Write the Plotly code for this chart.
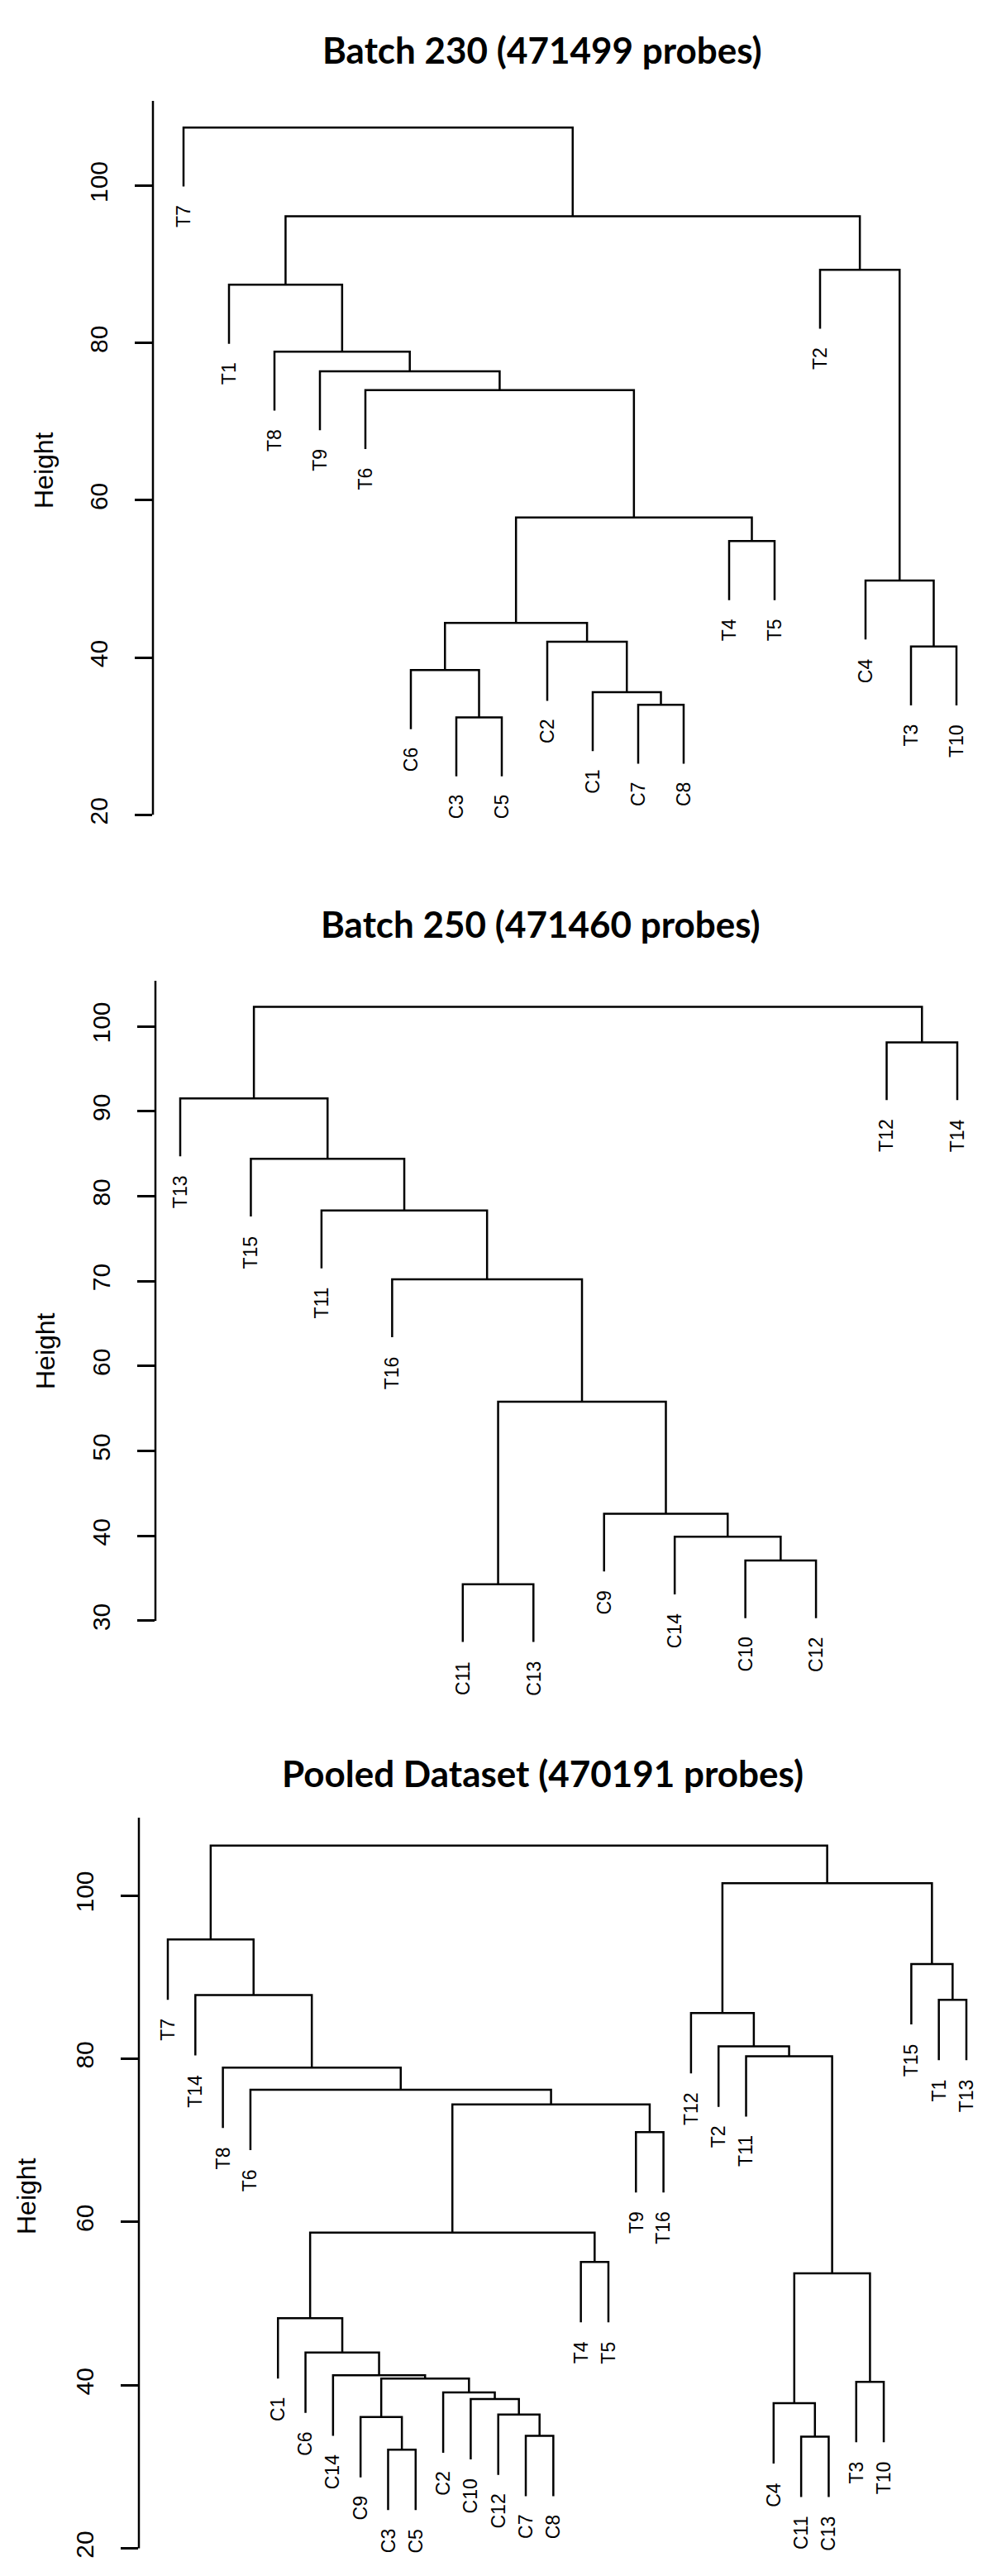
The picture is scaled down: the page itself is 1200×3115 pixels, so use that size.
import plotly.graph_objects as go

W, H = 1200, 3115

# ---------------- data ----------------
TITLES = ["Batch 230 (471499 probes)",
          "Batch 250 (471460 probes)",
          "Pooled Dataset (470191 probes)"]

# leaf order (left to right) and merges: (left, right, height); ints refer to earlier merges
ORDER_230 = ["T7", "T1", "T8", "T9", "T6", "C6", "C3", "C5", "C2", "C1", "C7", "C8",
             "T4", "T5", "T2", "C4", "T3", "T10"]
MERGES_230 = [("C3", "C5", 32.4), ("C7", "C8", 34.0), ("C1", 1, 35.6), ("C6", 0, 38.4),
              ("T3", "T10", 41.4), ("C2", 2, 42.0), (3, 5, 44.4), ("C4", 4, 49.8),
              ("T4", "T5", 54.8), (6, 8, 57.8), ("T6", 9, 74.0), ("T9", 10, 76.4),
              ("T8", 11, 78.9), ("T1", 12, 87.4), ("T2", 7, 89.3), (13, 14, 96.1),
              ("T7", 15, 107.4)]
TICKS_230 = [20, 40, 60, 80, 100]

ORDER_250 = ["T13", "T15", "T11", "T16", "C11", "C13", "C9", "C14", "C10", "C12", "T12", "T14"]
MERGES_250 = [("C11", "C13", 34.3), ("C10", "C12", 37.1), ("C14", 1, 39.9), ("C9", 2, 42.6),
              (0, 3, 55.8), ("T16", 4, 70.2), ("T11", 5, 78.3), ("T15", 6, 84.4),
              ("T13", 7, 91.5), ("T12", "T14", 98.1), (8, 9, 102.3)]
TICKS_250 = [30, 40, 50, 60, 70, 80, 90, 100]

ORDER_POOL = ["T7", "T14", "T8", "T6", "C1", "C6", "C14", "C9", "C3", "C5", "C2", "C10", "C12",
              "C7", "C8", "T4", "T5", "T9", "T16", "T12", "T2", "T11", "C4", "C11", "C13",
              "T3", "T10", "T15", "T1", "T13"]
MERGES_POOL = [("C3", "C5", 32.1), ("C11", "C13", 33.7), ("C7", "C8", 33.8), ("C9", 0, 36.1),
               ("C12", 2, 36.4), ("C4", 1, 37.8), ("C10", 4, 38.3), ("C2", 6, 39.1),
               ("T3", "T10", 40.4), (3, 7, 40.8), ("C14", 9, 41.2), ("C6", 10, 44.0),
               ("C1", 11, 48.2), (5, 8, 53.7), ("T4", "T5", 55.1), (12, 14, 58.7),
               ("T9", "T16", 71.0), (15, 16, 74.4), ("T6", 17, 76.2), ("T8", 18, 78.9),
               ("T11", 13, 80.3), ("T2", 20, 81.5), ("T12", 21, 85.6), ("T1", "T13", 87.2),
               ("T14", 19, 87.8), ("T15", 23, 91.6), ("T7", 24, 94.6), (22, 25, 101.5),
               (26, 27, 106.1)]
TICKS_POOL = [20, 40, 60, 80, 100]

# ---------------- layout geometry (pixels) ----------------
PANELS = [
    dict(order=ORDER_230, merges=MERGES_230, ticks=TICKS_230, title=TITLES[0],
         axis_px=177, leaf0_px=214, leafN_px=1149, ref_val=100, ref_px=216.5, k=9.51,
         top_px=114, bottom_px=1000, title_xy=(648, 52), ylab_xy=(45, 561)),
    dict(order=ORDER_250, merges=MERGES_250, ticks=TICKS_250, title=TITLES[1],
         axis_px=180, leaf0_px=210, leafN_px=1150, ref_val=100, ref_px=1233.0, k=10.27,
         top_px=1178, bottom_px=2035, title_xy=(646, 1109), ylab_xy=(47, 1626)),
    dict(order=ORDER_POOL, merges=MERGES_POOL, ticks=TICKS_POOL, title=TITLES[2],
         axis_px=160, leaf0_px=195, leafN_px=1161, ref_val=100, ref_px=2284.0, k=9.87,
         top_px=2190, bottom_px=3112, title_xy=(648, 2136), ylab_xy=(24, 2648)),
]
RIGHT_PX = 1195
LINE = dict(color="black", width=2.5)
AXFONT = "Liberation Sans, Arial, sans-serif"


def tree_segments(order, merges):
    pos = {name: i + 1 for i, name in enumerate(order)}
    hs = [m[2] for m in merges]
    hang = 0.1 * (max(hs) - min(hs))
    node_x, xs, ys, leaf_end = [], [], [], {}

    def child(c, h):
        if isinstance(c, int):
            return node_x[c], merges[c][2]
        leaf_end[c] = h - hang
        return pos[c], h - hang

    for l, r, h in merges:
        xl, yl = child(l, h)
        xr, yr = child(r, h)
        xs += [xl, xl, xr, xr, None]
        ys += [yl, h, h, yr, None]
        node_x.append((xl + xr) / 2)
    return xs, ys, leaf_end, pos


fig = go.Figure()
annotations, shapes = [], []

for i, p in enumerate(PANELS):
    sfx = "" if i == 0 else str(i + 1)
    xs, ys, leaf_end, pos = tree_segments(p["order"], p["merges"])
    n = len(p["order"])
    s = (p["leafN_px"] - p["leaf0_px"]) / (n - 1)
    x_lo = 1 - (p["leaf0_px"] - p["axis_px"]) / s
    x_hi = x_lo + (RIGHT_PX - p["axis_px"]) / s
    y_top = p["ref_val"] + (p["ref_px"] - p["top_px"]) / p["k"]
    y_bot = p["ref_val"] - (p["bottom_px"] - p["ref_px"]) / p["k"]

    fig.add_trace(go.Scatter(x=xs, y=ys, mode="lines", line=LINE, hoverinfo="skip",
                             showlegend=False, xaxis="x" + sfx, yaxis="y" + sfx))

    fig.update_layout(**{
        "xaxis" + sfx: dict(domain=[p["axis_px"] / W, RIGHT_PX / W], range=[x_lo, x_hi],
                            visible=False, anchor="y" + sfx, fixedrange=True),
        "yaxis" + sfx: dict(domain=[1 - p["bottom_px"] / H, 1 - p["top_px"] / H],
                            range=[y_bot, y_top], anchor="x" + sfx,
                            showline=False, showgrid=False, zeroline=False,
                            tickmode="array", tickvals=p["ticks"],
                            ticktext=[str(t) for t in p["ticks"]],
                            ticks="outside", ticklen=21, tickwidth=2.5, tickcolor="black",
                            tickangle=-90, ticklabelstandoff=21,
                            tickfont=dict(family=AXFONT, size=30, color="black"),
                            fixedrange=True),
    })

    # axis line from lowest tick to top
    shapes.append(dict(type="line", xref="paper", yref="y" + sfx,
                       x0=p["axis_px"] / W, x1=p["axis_px"] / W,
                       y0=min(p["ticks"]), y1=y_top, line=LINE))

    # leaf labels
    for name in p["order"]:
        annotations.append(dict(x=pos[name], y=leaf_end[name], xref="x" + sfx, yref="y" + sfx,
                                text=name, showarrow=False, textangle=-90,
                                xanchor="center", yanchor="top", yshift=-21,
                                font=dict(family=AXFONT, size=23, color="black")))

    # title
    annotations.append(dict(x=p["title_xy"][0] / W, y=1 - p["title_xy"][1] / H,
                            xref="paper", yref="paper", text="<b>" + p["title"] + "</b>",
                            showarrow=False, xanchor="center", yanchor="middle",
                            font=dict(family="Lato, sans-serif", size=44, color="black")))
    # y axis label
    annotations.append(dict(x=p["ylab_xy"][0] / W, y=1 - p["ylab_xy"][1] / H,
                            xref="paper", yref="paper", text="Height", showarrow=False,
                            textangle=-90, xanchor="center", yanchor="middle",
                            font=dict(family=AXFONT, size=32, color="black")))

fig.update_layout(width=W, height=H, margin=dict(l=0, r=0, t=0, b=0),
                  paper_bgcolor="white", plot_bgcolor="white",
                  annotations=annotations, shapes=shapes, showlegend=False)

fig.write_html("out.html")
